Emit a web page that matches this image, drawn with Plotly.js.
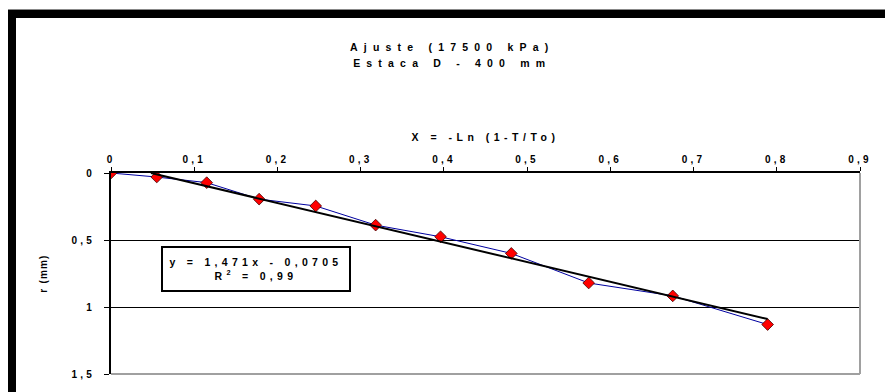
<!DOCTYPE html>
<html>
<head>
<meta charset="utf-8">
<script src="https://cdn.plot.ly/plotly-3.0.1.min.js"></script>
<style>
  html, body { margin: 0; padding: 0; background: #ffffff; }
  #wrap { position: relative; width: 885px; height: 392px; overflow: hidden; }
  #chart { position: absolute; left: 0; top: 0; width: 885px; height: 392px; }
  .fr { position: absolute; pointer-events: none; }
  #chart text { font-weight: bold !important; }
  #chart .gtitle { letter-spacing: 6.2px; }
  #chart .xtitle { letter-spacing: 4.5px; }
  #chart .ytitle { letter-spacing: 1.2px; }
  #chart .xtick text, #chart .ytick text { letter-spacing: 3.2px; }
  #chart .annotation-text { letter-spacing: 4.3px; }
</style>
</head>
<body>
<div id="wrap">
  <div id="chart"></div>
  <div class="fr" style="left:8px;top:9px;width:877px;height:1px;background:#888888;"></div>
  <div class="fr" style="left:8px;top:10px;width:877px;height:8px;background:#000000;"></div>
  <div class="fr" style="left:8px;top:10px;width:8px;height:382px;background:#000000;"></div>
</div>
<script>
// Measured points: X = -Ln(1-T/To) and r (mm)
const xVals = [0, 0.055, 0.115, 0.178, 0.246, 0.318, 0.396, 0.481, 0.574, 0.675, 0.789];
const rVals = [0, 0.030, 0.072, 0.195, 0.246, 0.389, 0.476, 0.600, 0.821, 0.917, 1.131];

// Linear trend line endpoints (y = 1,471x - 0,0705)
const trendX = [0.048, 0.789];
const trendY = [0, 1.090];

// Axis ticks
const xTickVals = [0, 0.1, 0.2, 0.3, 0.4, 0.5, 0.6, 0.7, 0.8, 0.9];
const xTickText = ["0", "0,1", "0,2", "0,3", "0,4", "0,5", "0,6", "0,7", "0,8", "0,9"];
const yTickVals = [0, 0.5, 1, 1.5];
const yTickText = ["0", "0,5", "1", "1,5"];

// Texts
const titleLine1 = "Ajuste (17500 kPa)";
const titleLine2 = "Estaca D - 400 mm";
const xTitle = "X = -Ln (1-T/To)";
const yTitle = "r (mm)";
const eqText = "y = 1,471x - 0,0705<br>R<sup>2</sup> = 0,99";

const FONT = "Liberation Sans, Arial, sans-serif";
const F = (s) => ({ family: FONT, size: s, color: "#000000", weight: "bold" });
const sized = (t) => '<span style="font-size:10.5px">' + t + '</span>';

const traces = [
  {
    x: xVals, y: rVals, type: "scatter", mode: "lines+markers",
    line: { color: "#0000a0", width: 1 },
    marker: { symbol: "diamond", size: 9, color: "#ff0000", line: { color: "#400000", width: 0.8 } },
    hoverinfo: "skip", showlegend: false
  },
  {
    x: trendX, y: trendY, type: "scatter", mode: "lines",
    line: { color: "#000000", width: 2 },
    hoverinfo: "skip", showlegend: false
  }
];

const layout = {
  width: 885, height: 392,
  margin: { l: 111, r: 25, t: 173, b: 18, pad: 0 },
  paper_bgcolor: "rgba(0,0,0,0)",
  plot_bgcolor: "#ffffff",
  showlegend: false,
  font: F(10.5),
  title: {
    text: sized(titleLine1) + "<br>" + sized(titleLine2),
    font: F(12.6),
    x: 0.511, xref: "container", xanchor: "center",
    y: 1 - 51 / 392, yref: "container", yanchor: "middle"
  },
  xaxis: {
    side: "top",
    range: [0, 0.9],
    tickvals: xTickVals, ticktext: xTickText,
    showline: true, linecolor: "#000000", linewidth: 2,
    ticks: "outside", ticklen: 4, tickwidth: 1, tickcolor: "#000000",
    showgrid: false, zeroline: false,
    tickfont: F(10),
    title: { text: xTitle, standoff: 10, font: F(10.5) }
  },
  yaxis: {
    range: [1.5, 0],
    tickvals: yTickVals, ticktext: yTickText,
    showline: true, linecolor: "#000000", linewidth: 2,
    ticks: "outside", ticklen: 5, tickwidth: 1, tickcolor: "#000000",
    ticklabelstandoff: 7,
    showgrid: true, gridcolor: "#000000", gridwidth: 1,
    zeroline: false,
    tickfont: F(10),
    title: { text: yTitle, standoff: 32, font: F(10) }
  },
  shapes: [
    { type: "line", xref: "paper", yref: "paper", x0: 1, x1: 1, y0: 0, y1: 1, line: { color: "#a0a0a0", width: 2 } },
    { type: "line", xref: "paper", yref: "paper", x0: 0, x1: 1, y0: 0, y1: 0, line: { color: "#a0a0a0", width: 2 } }
  ],
  annotations: [
    {
      text: eqText, xref: "x", yref: "y", x: 0.174, y: 0.715,
      xanchor: "center", yanchor: "middle", showarrow: false,
      width: 184, height: 40, borderpad: 1,
      bordercolor: "#000000", borderwidth: 2, bgcolor: "#ffffff",
      align: "center",
      font: F(10.5)
    }
  ]
};

Plotly.newPlot("chart", traces, layout, { staticPlot: true, displayModeBar: false });
</script>
</body>
</html>
